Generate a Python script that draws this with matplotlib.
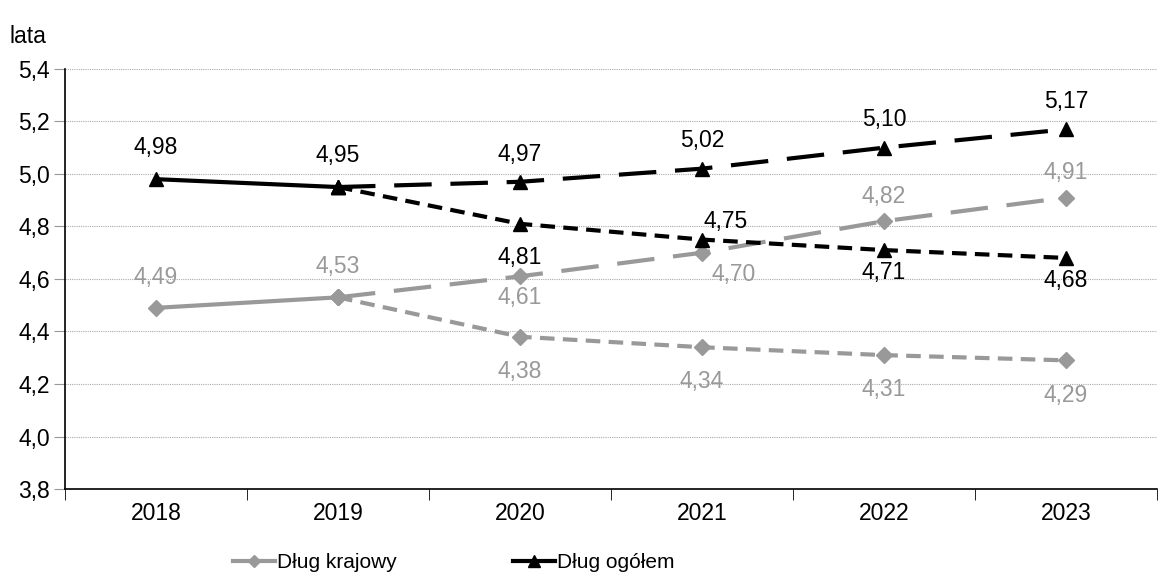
import matplotlib
matplotlib.use("Agg")
from matplotlib import pyplot as plt
from matplotlib.ticker import FixedLocator

plt.rcParams['font.family'] = ['Liberation Sans Narrow', 'Liberation Sans', 'DejaVu Sans']

lata = ['2018', '2019', '2020', '2021', '2022', '2023']

# lata 2018-2019 (wykonanie)
krajowy_hist = [4.49, 4.53]
ogolem_hist = [4.98, 4.95]
# warianty 2019-2023
krajowy_a = [4.53, 4.61, 4.70, 4.82, 4.91]
krajowy_b = [4.53, 4.38, 4.34, 4.31, 4.29]
ogolem_a = [4.95, 4.97, 5.02, 5.10, 5.17]
ogolem_b = [4.95, 4.81, 4.75, 4.71, 4.68]

szary = '#999999'
long_dash = (0, (9, 4.5))
short_dash = (0, (3.5, 2))
FS = 16.5

def fmt(v):
    return f"{v:.2f}".replace('.', ',')

fig = plt.figure(figsize=(11.64, 5.74), dpi=100)
ax = fig.add_axes([0.0558, 0.148, 0.9382, 0.732])

x_hist = [0, 1]
x_proj = [1, 2, 3, 4, 5]

lk, = ax.plot(x_hist, krajowy_hist, color=szary, lw=3, marker='D', ms=8, zorder=3)
ax.plot(x_proj, krajowy_a, color=szary, lw=3, ls=long_dash, marker='D', ms=8, zorder=3)
ax.plot(x_proj, krajowy_b, color=szary, lw=3, ls=short_dash, marker='D', ms=8, zorder=3)
lo, = ax.plot(x_hist, ogolem_hist, color='black', lw=3, marker='^', ms=10, zorder=4)
ax.plot(x_proj, ogolem_a, color='black', lw=3, ls=long_dash, marker='^', ms=10, zorder=4)
ax.plot(x_proj, ogolem_b, color='black', lw=3, ls=short_dash, marker='^', ms=10, zorder=4)

def label(x, y, dx, dy, color):
    ax.annotate(fmt(y), (x, y), xytext=(dx, dy), textcoords='offset points',
                ha='center', va='center', fontsize=FS, color=color, zorder=5)

# etykiety: przesuniecia w punktach
for x, y in zip(x_hist, ogolem_hist):
    label(x, y, 0, 23, 'black')
for x, y in zip(x_proj[1:], ogolem_a[1:]):
    label(x, y, 0, 20, 'black')
for x, y in zip(x_proj[1:], ogolem_b[1:]):
    if x == 3:
        label(x, y, 17, 13, 'black')
    elif x == 2:
        label(x, y, 0, -24, 'black')
    else:
        label(x, y, 0, -16, 'black')

for x, y in zip(x_hist, krajowy_hist):
    label(x, y, 0, 22, szary)
for x, y in zip(x_proj[1:], krajowy_a[1:]):
    if x == 2:
        label(x, y, 0, -15, szary)
    elif x == 3:
        label(x, y, 23, -16, szary)
    else:
        label(x, y, 0, 18, szary)
for x, y in zip(x_proj[1:], krajowy_b[1:]):
    label(x, y, 0, -25, szary)

ax.set_xlim(-0.5, 5.5)
ax.set_ylim(3.8, 5.4)
ax.set_xticks(range(len(lata)))
ax.set_xticklabels(lata, fontsize=FS)
ax.xaxis.set_minor_locator(FixedLocator([i - 0.5 for i in range(len(lata) + 1)]))
ax.tick_params(axis='x', which='major', length=0, pad=9)
ax.tick_params(axis='x', which='minor', length=8, color='black', direction='out')

yt = [3.8, 4.0, 4.2, 4.4, 4.6, 4.8, 5.0, 5.2, 5.4]
ax.set_yticks(yt)
ax.set_yticklabels([f"{v:.1f}".replace('.', ',') for v in yt], fontsize=FS)
ax.tick_params(axis='y', length=8, color='#999999', pad=3)

for v in yt[1:]:
    ax.axhline(v, color='#aaaaaa', lw=0.8, ls=(0, (1, 1)), zorder=1)

ax.spines['top'].set_visible(False)
ax.spines['right'].set_visible(False)
ax.spines['left'].set_linewidth(1.2)
ax.spines['bottom'].set_linewidth(1.2)

fig.text(0.008, 0.937, 'lata', fontsize=FS, ha='left', va='center')

fig.legend([lk, lo], ['Dług krajowy', 'Dług ogółem'], loc='center',
           bbox_to_anchor=(0.39, 0.02), ncol=2, frameon=False, fontsize=15,
           handlelength=2.0, handletextpad=0.1, columnspacing=5.6, markerscale=0.8)

fig.savefig('out.png', dpi=100)
